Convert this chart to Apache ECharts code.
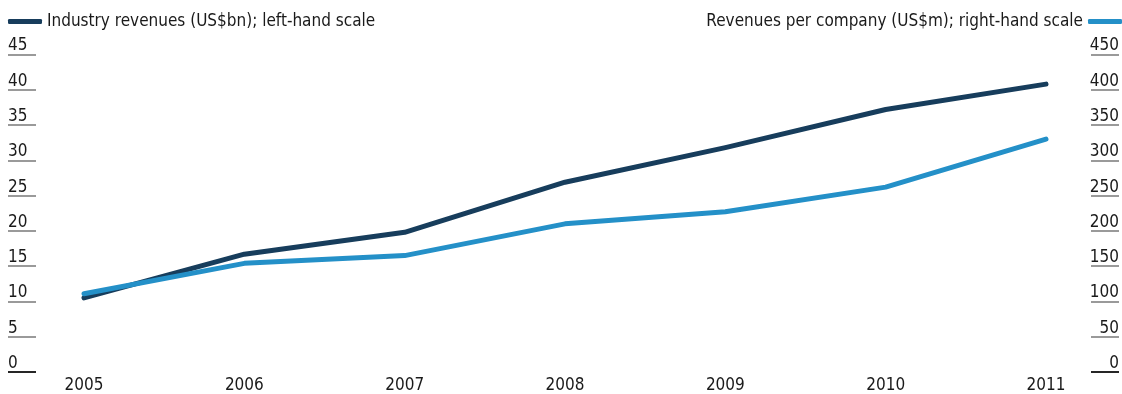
<!DOCTYPE html>
<html>
<head>
<meta charset="utf-8">
<script src="https://cdn.jsdelivr.net/npm/echarts@6/dist/echarts.min.js"></script>
<style>
  html, body { margin: 0; padding: 0; background: #fff; }
  #chart { width: 1122px; height: 394px; }
</style>
</head>
<body>
<div id="chart"></div>
<script>
// Years on the horizontal axis
const years = ['2005', '2006', '2007', '2008', '2009', '2010', '2011'];
// Industry revenues, US$bn (left-hand scale)
const industryRevenues = [10.5, 16.7, 19.8, 26.9, 31.8, 37.2, 40.8];
// Revenues per company, US$m (right-hand scale)
const revenuesPerCompany = [111, 154, 165, 210, 227, 262, 330];
// Tick values for each scale (the zero tick is drawn darker)
const leftTicks = [5, 10, 15, 20, 25, 30, 35, 40, 45];
const rightTicks = [50, 100, 150, 200, 250, 300, 350, 400, 450];

const seriesNames = [
  'Industry revenues (US$bn); left-hand scale',
  'Revenues per company (US$m); right-hand scale'
];

const FONT = '"Liberation Sans Narrow", "DejaVu Sans Condensed", sans-serif';
const DARK = '#173d5c';
const LIGHT = '#2490c8';
const TICK_GREY = '#9a9a9a';
const TEXT = '#1a1a1a';

const chart = echarts.init(document.getElementById('chart'), null, { renderer: 'canvas' });

function sideAxis(opts) {
  return Object.assign({
    type: 'value',
    min: 0,
    max: 45,
    interval: 5,
    splitLine: { show: false },
    axisLine: { show: false }
  }, opts);
}

const labelStyle = { fontFamily: FONT, fontSize: 17, color: TEXT, verticalAlign: 'bottom', padding: [0, 0, 0, 0] };

chart.setOption({
  animation: false,
  textStyle: { fontFamily: FONT },
  grid: { left: 84, right: 71, top: 54.5, bottom: 20, containLabel: false },
  legend: [
    {
      data: [seriesNames[0]],
      left: 8, top: 13, padding: 0,
      icon: 'roundRect', itemWidth: 34, itemHeight: 5, itemGap: 0,
      textStyle: { fontFamily: FONT, fontSize: 17, color: TEXT }
    },
    {
      data: [seriesNames[1]],
      right: 0, top: 13, padding: 0, align: 'right',
      icon: 'roundRect', itemWidth: 34, itemHeight: 5, itemGap: 0,
      textStyle: { fontFamily: FONT, fontSize: 17, color: TEXT }
    }
  ],
  xAxis: {
    type: 'category',
    data: years,
    boundaryGap: false,
    axisLine: { show: false },
    axisTick: { show: false },
    splitLine: { show: false },
    axisLabel: { fontFamily: FONT, fontSize: 17, color: TEXT, margin: 5 }
  },
  yAxis: [
    // left scale: grey ticks with labels sitting on them
    sideAxis({
      position: 'left', offset: 48,
      axisTick: { show: true, length: 28, customValues: leftTicks, lineStyle: { color: TICK_GREY, width: 2 } },
      axisLabel: Object.assign({ show: true, align: 'left', margin: 28, customValues: [0].concat(leftTicks) }, labelStyle)
    }),
    // right scale
    sideAxis({
      position: 'right', offset: 45, max: 450, interval: 50,
      axisTick: { show: true, length: 28, customValues: rightTicks, lineStyle: { color: TICK_GREY, width: 2 } },
      axisLabel: Object.assign({ show: true, align: 'right', margin: 28, customValues: [0].concat(rightTicks) }, labelStyle)
    }),
    // darker zero tick, left
    sideAxis({
      position: 'left', offset: 48,
      axisTick: { show: true, length: 28, customValues: [0], lineStyle: { color: '#262626', width: 2 } },
      axisLabel: { show: false }
    }),
    // darker zero tick, right
    sideAxis({
      position: 'right', offset: 45, max: 450, interval: 50,
      axisTick: { show: true, length: 28, customValues: [0], lineStyle: { color: '#262626', width: 2 } },
      axisLabel: { show: false }
    })
  ],
  series: [
    {
      name: seriesNames[0],
      type: 'line',
      yAxisIndex: 0,
      data: industryRevenues,
      showSymbol: false,
      color: DARK,
      lineStyle: { width: 5, color: DARK, cap: 'round', join: 'round' },
      z: 3
    },
    {
      name: seriesNames[1],
      type: 'line',
      yAxisIndex: 1,
      data: revenuesPerCompany,
      showSymbol: false,
      color: LIGHT,
      lineStyle: { width: 5, color: LIGHT, cap: 'round', join: 'round' },
      z: 4
    }
  ]
});
</script>
</body>
</html>
